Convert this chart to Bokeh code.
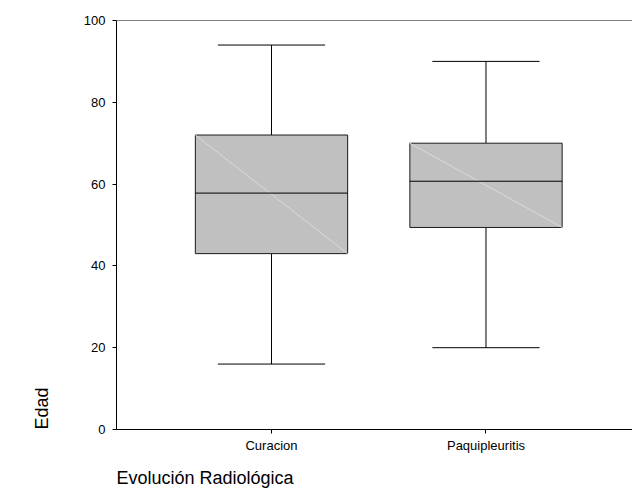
from bokeh.plotting import figure
from bokeh.models import ColumnDataSource, FixedTicker, Span, Range1d, Title
from bokeh.embed import file_html
from bokeh.resources import INLINE

# Age (Edad) by radiological outcome: five-number summaries per group
categories = ["Curacion", "Paquipleuritis"]
lower = [16, 20]
q1 = [43, 49.4]
median = [57.8, 60.7]
q3 = [72, 70]
upper = [94, 90]
y_ticks = [0, 20, 40, 60, 80, 100]

x_title = "Evolución Radiológica"
y_title = "Edad"

FONT = "Liberation Sans"
BOX_W = 0.71
CAP_W = 0.5

xs = list(range(len(categories)))
src = ColumnDataSource(dict(
    x=xs,
    left=[x - BOX_W / 2 for x in xs],
    right=[x + BOX_W / 2 for x in xs],
    cap_l=[x - CAP_W / 2 for x in xs],
    cap_r=[x + CAP_W / 2 for x in xs],
    lower=lower, q1=q1, median=median, q3=q3, upper=upper,
))

p = figure(
    width=632, height=498,
    output_backend="svg", toolbar_location=None,
    x_range=Range1d(-0.7226, 1.683), y_range=Range1d(0, 100),
    min_border_left=116, min_border_right=0,
    min_border_top=20, min_border_bottom=69,
)
p.outline_line_color = None
p.grid.visible = False
p.background_fill_color = "white"
p.border_fill_color = "white"

# whiskers and caps
p.segment(x0="x", y0="q3", x1="x", y1="upper", source=src, line_color="black", line_width=1)
p.segment(x0="x", y0="q1", x1="x", y1="lower", source=src, line_color="black", line_width=1)
p.segment(x0="cap_l", y0="upper", x1="cap_r", y1="upper", source=src, line_color="black", line_width=1)
p.segment(x0="cap_l", y0="lower", x1="cap_r", y1="lower", source=src, line_color="black", line_width=1)

# boxes
p.vbar(x="x", width=BOX_W, bottom="q1", top="q3", source=src,
       fill_color="#c0c0c0", line_color="#1a1a1a", line_width=1)
# faint diagonal across each box
p.segment(x0="left", y0="q3", x1="right", y1="q1", source=src, line_color="#dadada", line_width=1)
# medians
p.segment(x0="left", y0="median", x1="right", y1="median", source=src, line_color="black", line_width=1)

# top border of the plotting area
p.add_layout(Span(location=y_ticks[-1], dimension="width", line_color="black", line_width=1))

# axes
for ax in (p.xaxis, p.yaxis):
    ax.axis_line_color = "black"
    ax.major_tick_line_color = "black"
    ax.minor_tick_line_color = None
    ax.major_tick_out = 4
    ax.major_tick_in = 0
    ax.major_label_text_font = FONT
    ax.major_label_text_font_size = "13px"
    ax.major_label_text_color = "black"

p.xaxis.ticker = FixedTicker(ticks=xs)
p.xaxis.major_label_overrides = {x: c for x, c in zip(xs, categories)}
p.xaxis.major_label_standoff = 4

p.yaxis.ticker = FixedTicker(ticks=y_ticks)
p.yaxis.major_label_standoff = 7

# axis titles, both starting at the lower-left corner of the plotting area
title_style = dict(text_font=FONT, text_font_size="18px", text_font_style="normal",
                   text_color="black", align="left", offset=0)
p.add_layout(Title(text=x_title, standoff=21, **title_style), "below")
p.add_layout(Title(text=y_title, standoff=58, **title_style), "left")

with open("out.html", "w") as f:
    f.write(file_html(p, INLINE))
